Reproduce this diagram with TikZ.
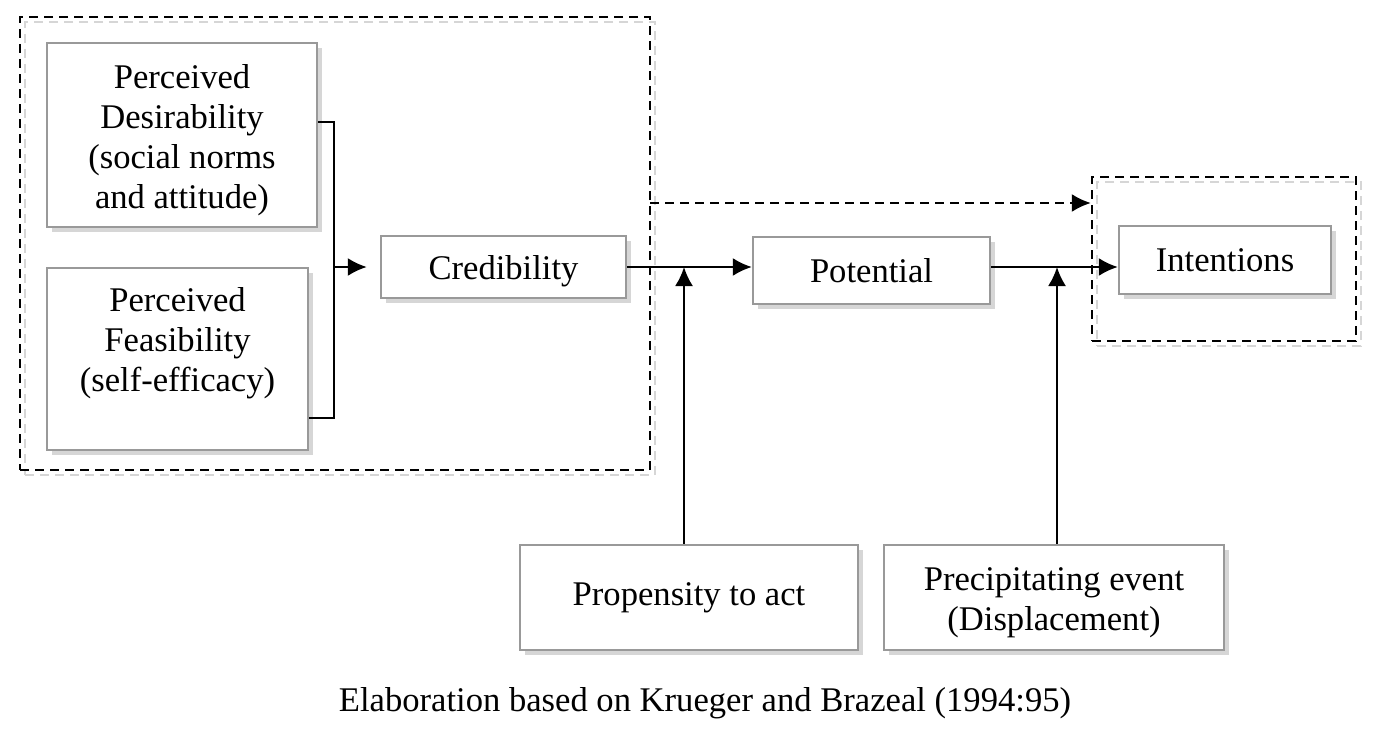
\documentclass[tikz,border=0pt]{standalone}
\usepackage{fontspec}
\setmainfont{Liberation Serif}
\usepackage{xcolor}
\usepackage{tikz}
\usetikzlibrary{shapes.geometric, arrows.meta, shadows}
\definecolor{boxgray}{gray}{0.6}
\definecolor{shadegray}{gray}{0.84}
\tikzstyle{block} = [rectangle, inner sep=0pt, draw=boxgray, line width=1.2pt, fill=white, general shadow={fill=shadegray, shadow xshift=2.5pt, shadow yshift=-2.5pt}]
\tikzstyle{txt} = [inner sep=0pt, text centered, align=center, font=\fontsize{17.3}{20}\selectfont]
\tikzstyle{group} = [rectangle, inner sep=0pt, draw=black, line width=1.2pt, dash pattern=on 4.5pt off 3pt, general shadow={draw=shadegray, fill=none, line width=1.2pt, dash pattern=on 4.5pt off 3pt, shadow xshift=2.5pt, shadow yshift=-2.5pt}]
\tikzstyle{line} = [line width=1.2pt]
\tikzstyle{arrow} = [line width=1.1pt, -{Latex[length=9.5pt, width=9pt]}]
\tikzstyle{dasharrow} = [arrow, dash pattern=on 4.5pt off 3pt]

\begin{document}
\begin{tikzpicture}[x=0.5pt, y=-0.5pt]
        \useasboundingbox (0,0) rectangle (1380,733);
        % groups
        \node (grp1) [group, minimum width=315pt, minimum height=226.5pt] at (335,243.5) {};
        \node (grp2) [group, minimum width=132pt, minimum height=82pt] at (1224,259) {};
        % boxes
        \node (desir) [block, minimum width=135pt, minimum height=92pt, label={[txt, yshift=-2.5pt]center:{Perceived\\Desirability\\(social norms\\and attitude)}}] at (182,135) {};
        \node (feas) [block, minimum width=130.5pt, minimum height=91pt, label={[txt, yshift=8pt]center:{Perceived\\Feasibility\\(self-efficacy)}}] at (177.5,359) {};
        \node (cred) [block, minimum width=122.5pt, minimum height=31pt, label={[txt, yshift=-2pt]center:Credibility}] at (503.5,267) {};
        \node (pot) [block, minimum width=118.5pt, minimum height=33.5pt, label={[txt]center:Potential}] at (871.5,270.5) {};
        \node (intent) [block, minimum width=106pt, minimum height=34pt, label={[txt]center:Intentions}] at (1225,260) {};
        \node (prop) [block, minimum width=169pt, minimum height=52.5pt, label={[txt]center:Propensity to act}] at (689,597.5) {};
        \node (precip) [block, minimum width=170pt, minimum height=52.5pt, label={[txt, yshift=-2.5pt]center:{Precipitating event\\(Displacement)}}] at (1054,597.5) {};
        \node (cap) [txt] at (705,703) {Elaboration based on Krueger and Brazeal (1994:95)};

        \coordinate (b1) at (334,122);
        \coordinate (b2) at (334,418);
        \coordinate (d1) at (650,203);
        \coordinate (a1) at (684,267);
        \coordinate (a2) at (1057,267);

        \draw [line] (desir.east |- b1) -- (b1) -- (b2) -- (feas.east |- b2);
        \draw [arrow, shorten >=6.5pt] (b1 |- cred) -- (cred.west);
        \draw [arrow] (cred.east |- a1) -- (pot.west |- a1);
        \draw [arrow] (pot.east |- a2) -- (intent.west |- a2);
        \draw [arrow] (prop.north -| a1) -- (a1);
        \draw [arrow] (precip.north -| a2) -- (a2);
        \draw [dasharrow] (d1) -- (d1 -| grp2.west);
 \end{tikzpicture}
\end{document}
